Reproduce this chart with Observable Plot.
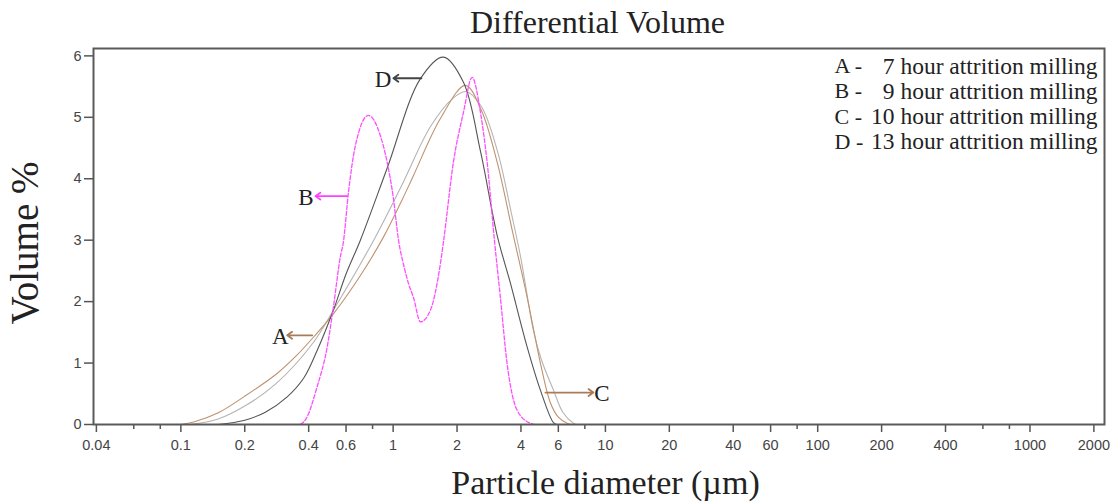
<!DOCTYPE html>
<html>
<head>
<meta charset="utf-8">
<script src="https://cdn.jsdelivr.net/npm/d3@7"></script>
<script src="https://cdn.jsdelivr.net/npm/@observablehq/plot@0.6"></script>
<style>
  body { margin: 0; background: #fff; }
  #title { width: 1115px; height: 44px; line-height: 44px; box-sizing: border-box; padding-left: 80px;
           font-family: "Liberation Serif", "Times New Roman", serif; font-size: 32px; color: #222; text-align: center; }
  #chart svg { display: block; }
</style>
</head>
<body>
<div id="title"></div>
<div id="chart"></div>
<script>
// ---- Text ----
const titleText = "Differential Volume";
const xLabelText = "Particle diameter (\u00b5m)";
const yLabelText = "Volume %";

// ---- Axis ticks ----
const xTicksLabeled = [0.04, 0.1, 0.2, 0.4, 0.6, 1, 2, 4, 6, 10, 20, 40, 60, 100, 200, 400, 1000, 2000];
const xTickLabels = ["0.04", "0.1", "0.2", "0.4", "0.6", "1", "2", "4", "6", "10", "20", "40", "60", "100", "200", "400", "1000", "2000"];
const xTicksMinor = [0.06, 0.08, 0.8, 8, 80, 600, 800];
const yTicks = [0, 1, 2, 3, 4, 5, 6];
const yTickLabels = ["0", "1", "2", "3", "4", "5", "6"];

// ---- Series: A (7 h), B (9 h), C (10 h), D (13 h) ----
const seriesNames = ["A", "B", "C", "D"];
const aX = [0.10, 0.115, 0.15, 0.198, 0.284, 0.35, 0.421, 0.523, 0.70, 0.90, 1.1, 1.246, 1.67, 2.19, 2.6, 3.09, 3.65, 4.28, 4.94, 5.51, 6.0, 6.6, 6.9];
const aY = [0.0, 0.04, 0.19, 0.45, 0.83, 1.12, 1.42, 1.80, 2.42, 3.05, 3.65, 4.05, 4.98, 5.52, 5.12, 4.27, 3.14, 2.07, 1.00, 0.35, 0.12, 0.02, 0.0];
const bX = [0.366, 0.39, 0.438, 0.489, 0.523, 0.564, 0.583, 0.616, 0.664, 0.765, 0.871, 0.937, 1.003, 1.06, 1.12, 1.18, 1.246, 1.345, 1.498, 1.67, 1.726, 1.923, 2.144, 2.356, 2.578, 2.772, 3.0, 3.2, 3.44, 3.84, 4.43, 4.6];
const bY = [0.0, 0.1, 0.61, 1.26, 1.91, 2.73, 2.97, 3.78, 4.54, 5.03, 4.70, 4.27, 3.68, 3.0, 2.6, 2.3, 2.07, 1.67, 1.86, 2.62, 2.97, 4.27, 5.08, 5.65, 5.08, 4.27, 3.0, 2.07, 1.00, 0.23, 0.02, 0.0];
const cX = [0.11, 0.15, 0.2, 0.28, 0.42, 0.523, 0.81, 1.1, 1.5, 1.9, 2.2, 2.6, 3.1, 3.6, 4.0, 4.58, 5.0, 5.69, 6.3, 7.07, 7.3];
const cY = [0.0, 0.09, 0.30, 0.66, 1.33, 1.86, 3.0, 3.9, 4.85, 5.3, 5.42, 5.18, 4.45, 3.45, 2.7, 1.53, 1.05, 0.56, 0.2, 0.02, 0.0];
const dX = [0.15, 0.2, 0.25, 0.317, 0.38, 0.438, 0.523, 0.6, 0.701, 0.937, 1.345, 1.726, 2.144, 2.578, 3.09, 3.568, 4.28, 4.94, 5.69, 5.9];
const dY = [0.0, 0.07, 0.2, 0.45, 0.76, 1.2, 1.86, 2.45, 3.0, 4.17, 5.63, 5.98, 5.57, 4.45, 3.08, 2.3, 1.26, 0.56, 0.03, 0.0];

// ---- Annotations (arrow start, arrow end, level, letter position) ----
const annotLetters = ["A", "B", "C", "D"];
const annotFromX = [0.4155, 0.6073, 5.218, 1.359];
const annotToX = [0.3168, 0.4305, 8.78, 1.003];
const annotY = [1.452, 3.717, 0.52, 5.636];
const annotTextX = [0.3223, 0.4217, 8.87, 0.982];

// ---- Legend ----
const legendKeys = ["A -", "B -", "C -", "D -"];
const legendTexts = ["7 hour attrition milling", "9 hour attrition milling", "10 hour attrition milling", "13 hour attrition milling"];

// ---- Styles ----
const serif = "Liberation Serif, Times New Roman, serif";
const colors = { A: "#bf9270", B: "#ff4dff", C: "#b4b4b4", D: "#555555" };
const arrowColors = { A: "#a87c58", B: "#ff40ff", C: "#a87c58", D: "#444444" };

document.getElementById("title").textContent = titleText;

const xsArr = { A: aX, B: bX, C: cX, D: dX };
const ysArr = { A: aY, B: bY, C: cY, D: dY };
const lineData = {};
for (const s of seriesNames) lineData[s] = xsArr[s].map((x, i) => ({ x, y: ysArr[s][i] }));

const annots = annotLetters.map((l, i) => ({ l, fx: annotFromX[i], tx: annotToX[i], y: annotY[i], ttx: annotTextX[i] }));
const xLabelRows = xTicksLabeled.map((v, i) => ({ v, t: xTickLabels[i] }));
const yLabelRows = yTicks.map((v, i) => ({ v, t: yTickLabels[i] }));

const marks = [];
// lines
for (const s of ["C", "A", "D"]) {
  marks.push(Plot.line(lineData[s], { x: "x", y: "y", stroke: colors[s], strokeWidth: 1.1, curve: "catmull-rom" }));
}
marks.push(Plot.line(lineData.B, { x: "x", y: "y", stroke: colors.B, strokeWidth: 1.3, strokeDasharray: "4,2", curve: "monotone-x" }));

// arrows + letters
for (const a of annots) {
  marks.push(Plot.arrow([a], { x1: "fx", x2: "tx", y1: "y", y2: "y", stroke: arrowColors[a.l], strokeWidth: 1.8, headLength: 5, headAngle: 70 }));
  marks.push(Plot.text([a], { x: "ttx", y: "y", text: "l", textAnchor: a.l === "C" ? "start" : "end", lineAnchor: "middle", dy: 1,
    fontFamily: serif, fontSize: 23, fill: "#222" }));
}

// legend
legendKeys.forEach((k, i) => {
  marks.push(Plot.text([k], { text: d => d, frameAnchor: "top-left", dx: 741, dy: 17.7 + 25.2 * i, textAnchor: "start", lineAnchor: "middle",
    fontFamily: serif, fontSize: 22, fill: "#222" }));
  marks.push(Plot.text([legendTexts[i]], { text: d => d, frameAnchor: "top-right", dx: -7, dy: 17.7 + 25.2 * i, textAnchor: "end", lineAnchor: "middle",
    fontFamily: serif, fontSize: 23.5, fill: "#222" }));
});

// axes (ticks) and tick labels
marks.push(Plot.axisX(xTicksLabeled, { tickSize: 8, tickFormat: () => "", stroke: "#555", strokeWidth: 1.5 }));
marks.push(Plot.axisX(xTicksMinor, { tickSize: 5, tickFormat: () => "", stroke: "#555", strokeWidth: 1.5 }));
marks.push(Plot.text(xLabelRows, { x: "v", text: "t", frameAnchor: "bottom", dy: 20.5, lineAnchor: "middle", textAnchor: "middle",
  fill: "#444", fontSize: 14.5 }));
marks.push(Plot.axisY(yTicks, { tickSize: 9, tickFormat: () => "", stroke: "#555", strokeWidth: 1.5 }));
marks.push(Plot.text(yLabelRows, { y: "v", text: "t", frameAnchor: "left", dx: -12, lineAnchor: "middle", textAnchor: "end",
  fill: "#444", fontSize: 14.5 }));
marks.push(Plot.frame({ stroke: "#5a5a5a", strokeWidth: 2 }));

// axis titles
marks.push(Plot.text([xLabelText], { text: d => d, frameAnchor: "bottom", dx: 6.5, dy: 58.5, lineAnchor: "middle", textAnchor: "middle",
  fontFamily: serif, fontSize: 34, fill: "#222" }));
marks.push(Plot.text([yLabelText], { text: d => d, frameAnchor: "left", dx: -68, dy: 6.5, rotate: -90, lineAnchor: "middle", textAnchor: "middle",
  fontFamily: serif, fontSize: 39, fill: "#222" }));

const chart = Plot.plot({
  width: 1115,
  height: 458,
  marginLeft: 93,
  marginRight: 11,
  marginTop: 4,
  marginBottom: 78,
  style: { fontFamily: "Liberation Sans, Arial, sans-serif", fontSize: "14.5px", background: "#fff", overflow: "visible" },
  x: { type: "log", domain: [0.03877, 2244], label: null },
  y: { domain: [0, 6.12], label: null },
  marks
});
document.getElementById("chart").appendChild(chart);
</script>
</body>
</html>
